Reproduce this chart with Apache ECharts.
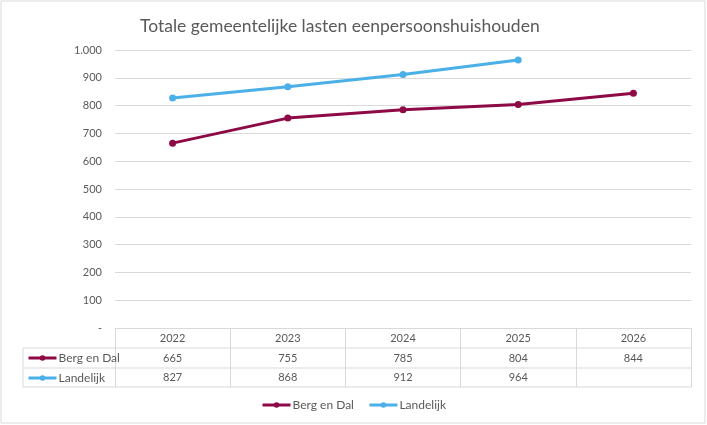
<!DOCTYPE html>
<html><head><meta charset="utf-8">
<script src="https://cdn.jsdelivr.net/npm/echarts@6/dist/echarts.min.js"></script>
<style>html,body{margin:0;padding:0;background:#fff}#c{width:707px;height:425px}</style>
</head><body><div id="c"></div>
<script>
const categories = ['2022','2023','2024','2025','2026'];
const bergEnDal = [665, 755, 785, 804, 844];
const landelijk = [827, 868, 912, 964, null];
const seriesNames = ['Berg en Dal','Landelijk'];
const colors = ['#8E0A46','#4BB0E8'];

const FONT = "Lato, 'Liberation Sans', sans-serif";
const TXT = '#595959';
const LINE = '#d9d9d9';
const G = {left:115, right:16, top:50, bottom:97};
const W = 707, H = 425;
const gx0 = G.left, gx1 = W - G.right, gy1 = H - G.bottom;
const rowH = 20;

const fmtTable = v => (v === null || v === undefined) ? '' : String(v);

const chart = echarts.init(document.getElementById('c'));
chart.setOption({
  animation:false,
  textStyle:{fontFamily:FONT},
  title:{text:'Totale gemeentelijke lasten eenpersoonshuishouden', left:135, top:12,
    textStyle:{fontFamily:FONT, fontSize:17.5, fontWeight:'normal', color:TXT}},
  grid:{left:G.left, right:G.right, top:G.top, bottom:G.bottom, containLabel:false},
  legend:[
    {data:seriesNames, orient:'vertical', left:27, top:gy1+rowH+3, itemGap:6, itemWidth:28, itemHeight:7,
     lineStyle:{width:3},
     textStyle:{fontFamily:FONT, fontSize:12, color:TXT, lineHeight:14, padding:[0,0,0,-3]}, padding:0},
    {data:seriesNames, bottom:14, left:'center', itemGap:14, itemWidth:28, itemHeight:7,
     lineStyle:{width:3},
     textStyle:{fontFamily:FONT, fontSize:12, color:TXT, padding:[0,0,0,-3]}, padding:0}
  ],
  xAxis:[
    {type:'category', data:categories, boundaryGap:true, position:'bottom',
     axisLine:{show:true, lineStyle:{color:LINE}},
     axisTick:{show:true, length:rowH*3-1, lineStyle:{color:LINE}},
     axisLabel:{color:TXT, fontSize:11, fontFamily:FONT, margin:5},
     splitLine:{show:false}},
    {type:'category', data:bergEnDal.map(fmtTable), position:'bottom', offset:rowH,
     axisLine:{show:false}, axisTick:{show:false},
     axisLabel:{color:TXT, fontSize:11, fontFamily:FONT, margin:5, interval:0}},
    {type:'category', data:landelijk.map(fmtTable), position:'bottom', offset:rowH*2,
     axisLine:{show:false}, axisTick:{show:false},
     axisLabel:{color:TXT, fontSize:11, fontFamily:FONT, margin:4, interval:0}}
  ],
  yAxis:{type:'value', min:0, max:1000, interval:100,
    axisLine:{show:false}, axisTick:{show:false},
    splitLine:{lineStyle:{color:LINE}},
    axisLabel:{color:TXT, fontSize:11, fontFamily:FONT, margin:13,
      formatter:v => v === 0 ? '-' : (v >= 1000 ? (Math.floor(v/1000) + '.' + String(v%1000).padStart(3,'0')) : String(v))}},
  series:[
    {name:seriesNames[0], type:'line', data:bergEnDal, color:colors[0], symbol:'circle', symbolSize:7,
     lineStyle:{width:3}, xAxisIndex:0},
    {name:seriesNames[1], type:'line', data:landelijk, color:colors[1], symbol:'circle', symbolSize:7,
     lineStyle:{width:3}, xAxisIndex:0}
  ],
  graphic:[
    {type:'rect', shape:{x:1, y:1, width:W-3, height:H-3}, style:{fill:null, stroke:LINE, lineWidth:1}, silent:true},
    {type:'line', shape:{x1:23, y1:gy1+rowH, x2:gx1, y2:gy1+rowH}, style:{stroke:LINE, lineWidth:1}, silent:true},
    {type:'line', shape:{x1:23, y1:gy1+rowH*2, x2:gx1, y2:gy1+rowH*2}, style:{stroke:LINE, lineWidth:1}, silent:true},
    {type:'line', shape:{x1:23, y1:gy1+rowH*3-1, x2:gx1, y2:gy1+rowH*3-1}, style:{stroke:LINE, lineWidth:1}, silent:true},
    {type:'line', shape:{x1:23, y1:gy1+rowH, x2:23, y2:gy1+rowH*3-1}, style:{stroke:LINE, lineWidth:1}, silent:true}
  ]
});
</script></body></html>
